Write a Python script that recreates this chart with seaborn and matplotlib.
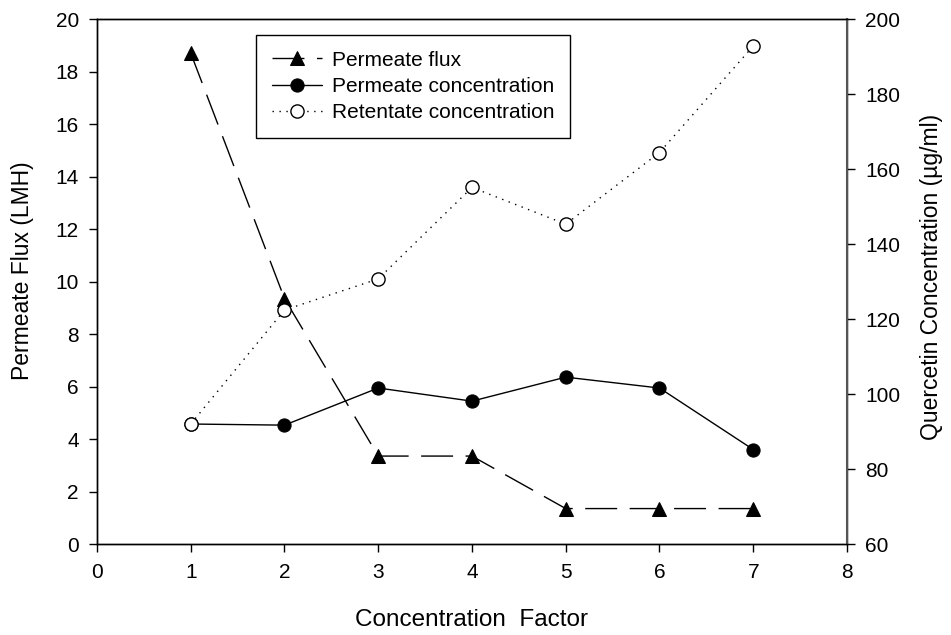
import matplotlib
matplotlib.use("Agg")
import matplotlib.pyplot as plt
import seaborn as sns
import pandas as pd

# Data
conc_factor = [1, 2, 3, 4, 5, 6, 7]
permeate_flux = [18.7, 9.35, 3.35, 3.35, 1.35, 1.35, 1.35]
permeate_conc = [92.0, 91.7, 101.6, 98.1, 104.5, 101.6, 85.2]
retentate_conc = [92.0, 122.4, 130.7, 155.1, 145.3, 164.4, 192.8]
x_ticks = [0, 1, 2, 3, 4, 5, 6, 7, 8]
left_ticks = [0, 2, 4, 6, 8, 10, 12, 14, 16, 18, 20]
right_ticks = [60, 80, 100, 120, 140, 160, 180, 200]

sns.set_style("ticks")
plt.rcParams['font.family'] = ['Liberation Sans', 'DejaVu Sans']
plt.rcParams['text.color'] = 'black'
plt.rcParams['axes.labelcolor'] = 'black'
plt.rcParams['xtick.color'] = 'black'
plt.rcParams['ytick.color'] = 'black'

fig = plt.figure(figsize=(9.51, 6.35), dpi=100)
ax = fig.add_axes([0.102, 0.1433, 0.7886, 0.8267])
ax2 = ax.twinx()

df = pd.DataFrame({"cf": conc_factor, "flux": permeate_flux,
                   "pc": permeate_conc, "rc": retentate_conc})

ms = 9.5
sns.lineplot(data=df, x="cf", y="flux", ax=ax, color="black", marker="^",
             markersize=ms, markeredgecolor="black", markerfacecolor="black",
             linewidth=1.0, label="Permeate flux", zorder=3)
l_flux = ax.lines[-1]
l_flux.set_dashes((23, 9))

sns.lineplot(data=df, x="cf", y="pc", ax=ax2, color="black", marker="o",
             markersize=ms, markeredgecolor="black", markerfacecolor="black",
             linewidth=1.0, label="Permeate concentration", zorder=3)
l_pc = ax2.lines[-1]

sns.lineplot(data=df, x="cf", y="rc", ax=ax2, color="black", marker="o",
             markersize=ms, markeredgecolor="black", markerfacecolor="white",
             markeredgewidth=1.0, linewidth=1.0, label="Retentate concentration", zorder=4)
l_rc = ax2.lines[-1]
l_rc.set_dashes((1, 4))

for a in (ax, ax2):
    if a.get_legend() is not None:
        a.get_legend().remove()

ax.set_xlim(0, 8)
ax.set_ylim(0, 20)
ax2.set_ylim(60, 200)
ax.set_xticks(x_ticks)
ax.set_yticks(left_ticks)
ax2.set_yticks(right_ticks)

ax.set_xlabel("Concentration  Factor", fontsize=17.5, color="black")
ax.set_ylabel("Permeate Flux (LMH)", fontsize=16.5, color="black")
ax2.set_ylabel("Quercetin Concentration (µg/ml)", fontsize=16.5, color="black")
ax.xaxis.set_label_coords(0.5, -0.1448)
ax.xaxis.label.set_verticalalignment("center")
ax.yaxis.set_label_coords(-0.0987, 0.52)
ax.yaxis.label.set_verticalalignment("center")
ax2.yaxis.set_label_coords(1.1133, 0.5086)
ax2.yaxis.label.set_verticalalignment("center")

for a in (ax, ax2):
    a.tick_params(direction="out", length=6, width=1, colors="black",
                  labelcolor="black", labelsize=15, pad=7)
    for s in a.spines.values():
        s.set_visible(True)
        s.set_color("black")
        s.set_linewidth(1.0)
ax.tick_params(axis="x", pad=8)
ax2.spines["right"].set_color("#555555")
ax2.spines["right"].set_linewidth(1.5)

leg = ax2.legend([l_flux, l_pc, l_rc],
                 ["Permeate flux", "Permeate concentration", "Retentate concentration"],
                 loc="upper left", bbox_to_anchor=(0.212, 0.9695), borderaxespad=0,
                 fontsize=15, frameon=True, fancybox=False, edgecolor="black",
                 framealpha=1, handlelength=2.4, borderpad=0.75, labelspacing=0.35,
                 handletextpad=0.5)
leg.get_frame().set_linewidth(1.0)
for t in leg.get_texts():
    t.set_color("black")

fig.savefig("out.png", dpi=100)
